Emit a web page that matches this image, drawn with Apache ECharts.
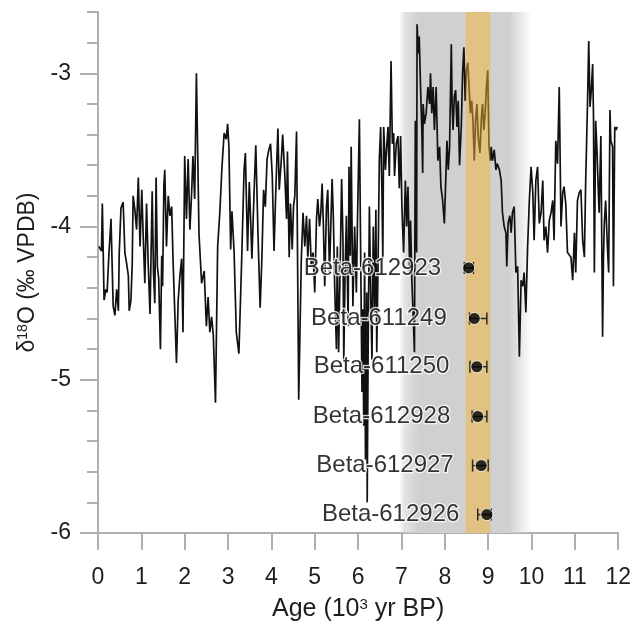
<!DOCTYPE html>
<html>
<head>
<meta charset="utf-8">
<script src="https://cdn.jsdelivr.net/npm/echarts@6/dist/echarts.min.js"></script>
<style>
html,body{margin:0;padding:0;background:#fff}
#chart{width:634px;height:627px}
</style>
</head>
<body>
<div id="chart"></div>
<script>
// age in 10^3 yr BP, d18O in permil VPDB
var age = [0.02,0.08,0.10,0.14,0.18,0.21,0.25,0.30,0.35,0.39,0.43,0.47,0.49,0.53,0.58,0.62,0.66,0.70,0.72,0.76,
  0.79,0.81,0.85,0.89,0.93,0.97,1.01,1.04,1.08,1.12,1.16,1.20,1.25,1.28,1.31,1.34,1.37,1.40,1.44,1.47,
  1.49,1.52,1.54,1.58,1.62,1.66,1.70,1.73,1.77,1.81,1.85,1.89,1.93,1.96,2.00,2.04,2.08,2.12,2.16,2.19,
  2.23,2.27,2.33,2.39,2.45,2.50,2.54,2.58,2.62,2.66,2.71,2.76,2.81,2.86,2.91,2.96,2.99,3.02,3.06,3.09,
  3.14,3.19,3.25,3.31,3.37,3.40,3.45,3.49,3.52,3.55,3.60,3.64,3.69,3.74,3.78,3.82,3.86,3.90,3.94,3.98,
  4.02,4.06,4.10,4.15,4.18,4.23,4.26,4.31,4.35,4.37,4.41,4.44,4.48,4.51,4.54,4.58,4.63,4.69,4.73,4.77,
  4.81,4.84,4.88,4.92,4.96,5.00,5.04,5.07,5.11,5.14,5.17,5.20,5.23,5.27,5.30,5.34,5.37,5.40,5.43,5.46,
  5.50,5.52,5.55,5.59,5.62,5.65,5.67,5.70,5.73,5.77,5.79,5.82,5.84,5.88,5.92,5.96,5.99,6.03,6.06,6.09,
  6.11,6.13,6.15,6.17,6.20,6.21,6.23,6.26,6.29,6.32,6.35,6.38,6.41,6.43,6.46,6.49,6.52,6.55,6.57,6.59,
  6.63,6.66,6.69,6.72,6.76,6.79,6.82,6.84,6.88,6.92,6.95,6.98,7.01,7.05,7.09,7.12,7.15,7.19,7.21,7.24,
  7.26,7.30,7.32,7.35,7.36,7.39,7.41,7.44,7.47,7.49,7.50,7.53,7.57,7.61,7.65,7.67,7.70,7.73,7.76,7.80,
  7.84,7.88,7.91,7.95,7.99,8.01,8.05,8.08,8.11,8.15,8.17,8.19,8.22,8.25,8.28,8.31,8.34,8.38,8.41,8.44,
  8.47,8.50,8.53,8.56,8.59,8.62,8.65,8.68,8.71,8.74,8.77,8.81,8.84,8.87,8.90,8.93,8.96,8.99,9.02,9.05,
  9.07,9.10,9.14,9.18,9.21,9.26,9.30,9.33,9.37,9.41,9.43,9.46,9.50,9.53,9.56,9.60,9.64,9.68,9.72,9.76,
  9.80,9.83,9.87,9.91,9.95,9.99,10.03,10.06,10.10,10.14,10.18,10.22,10.26,10.29,10.33,10.37,10.41,10.45,10.49,10.52,
  10.56,10.60,10.64,10.68,10.72,10.75,10.79,10.83,10.87,10.91,10.95,10.99,11.02,11.06,11.10,11.14,11.18,11.22,11.25,11.29,
  11.32,11.35,11.38,11.41,11.43,11.45,11.48,11.51,11.54,11.56,11.60,11.64,11.66,11.68,11.71,11.75,11.78,11.81,11.83,11.87,
  11.89,11.92,11.95,11.98];
var d18o = [-4.13,-4.16,-3.85,-4.48,-4.41,-4.43,-4.19,-3.95,-4.52,-4.58,-4.41,-4.55,-4.17,-3.88,-3.84,-4.17,-4.24,-4.32,-4.55,-4.48,
  -4.24,-3.80,-3.89,-4.02,-3.68,-4.13,-3.76,-4.04,-4.37,-3.85,-4.26,-4.57,-3.77,-4.30,-4.50,-3.68,-4.26,-4.34,-4.80,-4.19,
  -4.39,-3.73,-3.63,-4.13,-3.80,-3.93,-3.87,-4.21,-4.55,-4.89,-4.48,-4.32,-4.21,-4.69,-3.54,-3.95,-3.56,-4.02,-3.78,-3.54,
  -3.82,-3.00,-4.05,-4.37,-4.29,-4.65,-4.46,-4.69,-4.59,-4.71,-5.15,-4.13,-3.91,-3.61,-3.39,-3.43,-3.33,-3.48,-4.15,-3.90,
  -4.17,-4.69,-4.83,-4.26,-3.63,-3.52,-4.16,-3.71,-3.95,-4.21,-3.78,-3.47,-4.04,-4.53,-4.21,-3.76,-3.87,-3.56,-3.50,-3.46,
  -3.67,-4.16,-3.78,-3.36,-3.76,-3.56,-3.40,-3.67,-3.95,-3.51,-4.20,-3.85,-4.15,-3.87,-3.80,-3.38,-5.13,-4.21,-3.91,-4.13,
  -3.93,-4.21,-3.95,-4.26,-4.17,-4.43,-3.95,-3.82,-4.00,-3.91,-3.72,-4.00,-4.39,-3.87,-3.76,-4.30,-4.00,-3.69,-3.95,-4.39,
  -4.80,-4.13,-4.82,-4.19,-3.69,-4.08,-4.87,-4.30,-3.93,-4.65,-3.61,-4.19,-3.48,-4.52,-4.00,-4.43,-3.89,-3.30,-4.21,-5.08,
  -4.54,-5.30,-4.17,-5.52,-4.43,-5.80,-4.87,-3.87,-4.43,-4.87,-4.00,-4.56,-3.89,-4.82,-4.26,-3.56,-3.35,-3.78,-4.21,-3.35,
  -3.63,-3.48,-3.35,-3.67,-2.92,-3.46,-3.39,-3.67,-3.46,-3.41,-3.75,-3.41,-3.87,-4.17,-3.70,-4.00,-3.74,-4.30,-3.96,-4.35,
  -4.50,-4.82,-3.31,-4.17,-2.68,-2.87,-2.76,-3.09,-3.37,-3.65,-3.20,-3.33,-3.26,-3.09,-3.20,-3.00,-3.26,-3.09,-3.37,-3.09,
  -3.57,-3.48,-3.74,-3.83,-3.98,-3.80,-3.44,-3.63,-3.48,-2.81,-3.22,-3.37,-3.15,-3.11,-3.35,-3.18,-3.60,-3.35,-3.00,-2.83,
  -3.18,-2.98,-2.93,-3.09,-3.26,-3.18,-3.31,-3.57,-3.31,-3.20,-3.41,-3.52,-3.31,-3.20,-3.37,-3.26,-3.09,-2.98,-3.48,-3.57,
  -3.48,-3.57,-3.50,-3.63,-3.59,-3.63,-3.70,-3.91,-4.00,-4.04,-4.26,-3.98,-3.93,-4.04,-3.91,-3.87,-4.30,-4.26,-4.85,-4.35,
  -4.39,-4.30,-4.56,-4.13,-3.83,-3.61,-3.78,-4.09,-3.70,-3.61,-3.98,-3.91,-3.70,-4.09,-4.00,-4.17,-3.96,-3.91,-3.83,-4.09,
  -3.44,-3.59,-3.09,-4.00,-3.78,-3.74,-3.85,-4.17,-4.17,-4.20,-4.35,-4.04,-4.30,-3.83,-3.78,-3.76,-4.09,-4.20,-3.70,-3.22,
  -2.79,-3.22,-3.11,-2.94,-3.28,-4.30,-3.31,-3.50,-3.76,-3.91,-3.41,-4.72,-4.20,-3.98,-3.83,-4.13,-4.30,-3.24,-3.44,-3.48,
  -4.39,-3.35,-3.37,-3.35];

// radiocarbon samples: plotted age, vertical placement, age error range
var sampleNames = ['Beta-612923','Beta-611249','Beta-611250','Beta-612928','Beta-612927','Beta-612926'];
var sampleAge = [8.55, 8.68, 8.74, 8.76, 8.84, 8.97];
var sampleY = [-4.27, -4.60, -4.915, -5.24, -5.56, -5.88];
var sampleAgeMin = [8.45, 8.57, 8.58, 8.63, 8.64, 8.76];
var sampleAgeMax = [8.66, 8.97, 8.97, 8.97, 9.00, 9.07];

var grayBand = [6.95, 10.0];
var orangeBand = [8.48, 9.05];
var yMajorTicks = [-6, -5, -4, -3];

var FONT = '"Liberation Sans", Arial, Helvetica, sans-serif';
var TXT = '#1e1e1e';
var AX = '#b0b0b0';

var lineData = age.map(function (a, i) { return [a, d18o[i]]; });
var sampleData = sampleNames.map(function (n, i) {
  return { name: n, value: [sampleAge[i], sampleY[i]] };
});
var errData = sampleNames.map(function (n, i) {
  return [sampleAgeMin[i], sampleAgeMax[i], sampleY[i]];
});

var chart = echarts.init(document.getElementById('chart'));
chart.setOption({
  animation: false,
  grid: { left: 98, right: 15, top: 12, bottom: 92 },
  xAxis: {
    type: 'value', min: 0, max: 12, interval: 1,
    name: 'Age (10{s|3} yr BP)', nameLocation: 'middle', nameGap: 64,
    nameTextStyle: { fontSize: 25, color: TXT, fontFamily: FONT,
      rich: { s: { fontSize: 15, verticalAlign: 'top', lineHeight: 15, color: TXT, fontFamily: FONT } } },
    axisLine: { lineStyle: { color: AX, width: 2 } },
    axisTick: { length: 17, lineStyle: { color: AX, width: 2 } },
    axisLabel: { margin: 33, fontSize: 23, color: TXT, fontFamily: FONT },
    splitLine: { show: false }
  },
  yAxis: [{
    type: 'value', min: -6, max: -2.6, interval: 0.2,
    axisLine: { show: true, lineStyle: { color: AX, width: 2 } },
    axisTick: { show: true, length: 11, lineStyle: { color: AX, width: 2 } },
    axisLabel: { show: false },
    splitLine: { show: false }
  }, {
    type: 'value', min: -6, max: -2.6, position: 'left',
    name: 'δ{s|18}O (‰ VPDB)', nameLocation: 'middle', nameGap: 59, nameRotate: 90,
    nameTextStyle: { fontSize: 23, color: TXT, fontFamily: FONT,
      rich: { s: { fontSize: 14, verticalAlign: 'top', lineHeight: 15, color: TXT, fontFamily: FONT } } },
    axisLine: { show: false },
    axisTick: { show: true, length: 18, customValues: yMajorTicks, lineStyle: { color: AX, width: 2 } },
    axisLabel: { margin: 27, fontSize: 23, color: TXT, fontFamily: FONT, customValues: yMajorTicks },
    splitLine: { show: false }
  }],
  series: [{
    type: 'line', data: [], silent: true,
    markArea: {
      silent: true, z: 1,
      itemStyle: {
        color: new echarts.graphic.LinearGradient(0, 0, 1, 0, [
          { offset: 0, color: 'rgba(208,208,208,0)' },
          { offset: 0.04, color: 'rgba(208,208,208,0.6)' },
          { offset: 0.15, color: 'rgba(208,208,208,1)' },
          { offset: 0.83, color: 'rgba(208,208,208,1)' },
          { offset: 1, color: 'rgba(208,208,208,0)' }
        ])
      },
      data: [[{ xAxis: grayBand[0] }, { xAxis: grayBand[1] }]]
    }
  }, {
    type: 'line', data: lineData, z: 2, silent: true,
    symbol: 'none',
    lineStyle: { color: '#111', width: 1.7 }
  }, {
    type: 'line', data: [], silent: true,
    markArea: {
      silent: true, z: 3,
      itemStyle: { color: 'rgb(242,180,52)', opacity: 0.5 },
      data: [[{ xAxis: orangeBand[0] }, { xAxis: orangeBand[1] }]]
    }
  }, {
    type: 'custom', z: 4, silent: true,
    data: errData,
    renderItem: function (params, api) {
      var p1 = api.coord([api.value(0), api.value(2)]);
      var p2 = api.coord([api.value(1), api.value(2)]);
      var h = 6;
      var st = { stroke: '#2a2a2a', lineWidth: 1.5 };
      return { type: 'group', children: [
        { type: 'line', shape: { x1: p1[0], y1: p1[1], x2: p2[0], y2: p2[1] }, style: st },
        { type: 'line', shape: { x1: p1[0], y1: p1[1] - h, x2: p1[0], y2: p1[1] + h }, style: st },
        { type: 'line', shape: { x1: p2[0], y1: p2[1] - h, x2: p2[0], y2: p2[1] + h }, style: st }
      ] };
    }
  }, {
    type: 'scatter', z: 5, silent: true,
    data: sampleData,
    symbolSize: 12,
    itemStyle: { color: '#000', borderColor: '#fff', borderWidth: 1 },
    label: {
      show: true, position: 'left', distance: 21, formatter: '{b}',
      fontSize: 24, color: '#000', fontFamily: FONT,
      textBorderColor: '#fff', textBorderWidth: 2.5
    }
  }]
});
</script>
</body>
</html>
